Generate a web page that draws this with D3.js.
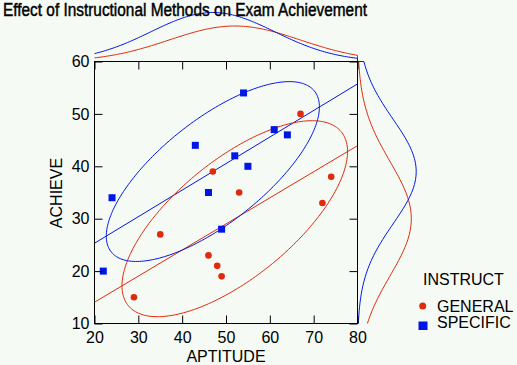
<!DOCTYPE html>
<html>
<head>
<meta charset="utf-8">
<script src="https://cdn.jsdelivr.net/npm/d3@7"></script>
<style>
  html, body { margin: 0; padding: 0; background: #f5faf5; }
  svg { display: block; }
  text { font-family: "Liberation Sans", Arial, sans-serif; fill: #000; }
</style>
</head>
<body>
<svg id="chart" width="517" height="365"></svg>
<script>
// ---- data ----
const groups = ["GENERAL", "SPECIFIC"];
const aptitudeGeneral  = [29, 35, 46, 47, 48, 49, 53, 67, 72, 74];
const achieveGeneral   = [15, 27, 23, 39, 21, 19, 35, 50, 33, 38];
const aptitudeSpecific = [22, 24, 43, 46, 49, 52, 54, 55, 61, 64];
const achieveSpecific  = [20, 34, 44, 35, 28, 42, 54, 40, 47, 46];
const xTicks = [20, 30, 40, 50, 60, 70, 80];
const yTicks = [10, 20, 30, 40, 50, 60];
const titleText = "Effect of Instructional Methods on Exam Achievement";
const xLabel = "APTITUDE";
const yLabel = "ACHIEVE";
const legendTitle = "INSTRUCT";

// ---- styling ----
const colors = { GENERAL: "#e02a0c", SPECIFIC: "#0016e6" };
const ellipseK = 1.72;
const topPeak = { GENERAL: 35.5, SPECIFIC: 49 };
const rightPeak = { GENERAL: 53.8, SPECIFIC: 58.7 };

const svg = d3.select("#chart");
const x = d3.scaleLinear().domain([20, 80]).range([94.5, 357.5]);
const y = d3.scaleLinear().domain([10, 60]).range([323.5, 61.5]);

const series = [
  { name: "GENERAL", xs: aptitudeGeneral, ys: achieveGeneral },
  { name: "SPECIFIC", xs: aptitudeSpecific, ys: achieveSpecific }
];
series.forEach(s => {
  const n = s.xs.length;
  s.mx = d3.mean(s.xs); s.my = d3.mean(s.ys);
  let sxx = 0, syy = 0, sxy = 0;
  for (let i = 0; i < n; i++) {
    const dx = s.xs[i] - s.mx, dy = s.ys[i] - s.my;
    sxx += dx * dx; syy += dy * dy; sxy += dx * dy;
  }
  s.vx = sxx / (n - 1); s.vy = syy / (n - 1); s.cxy = sxy / (n - 1);
  s.sdx = Math.sqrt(s.vx); s.sdy = Math.sqrt(s.vy);
  s.slope = sxy / sxx; s.icpt = s.my - s.slope * s.mx;
});

// clip
svg.append("clipPath").attr("id", "plotclip")
  .append("rect").attr("x", 94.5).attr("y", 61.5).attr("width", 263).attr("height", 262);

const plot = svg.append("g").attr("clip-path", "url(#plotclip)");

// regression lines
series.forEach(s => {
  plot.append("line")
    .attr("x1", x(20)).attr("y1", y(s.icpt + s.slope * 20))
    .attr("x2", x(80)).attr("y2", y(s.icpt + s.slope * 80))
    .attr("stroke", colors[s.name]).attr("stroke-width", 1);
});

// ellipses
series.forEach(s => {
  const a = Math.sqrt(s.vx), b = s.cxy / a, c = Math.sqrt(s.vy - b * b);
  const pts = d3.range(0, 240).map(i => {
    const t = i / 240 * 2 * Math.PI;
    return [x(s.mx + ellipseK * a * Math.cos(t)),
            y(s.my + ellipseK * (b * Math.cos(t) + c * Math.sin(t)))];
  });
  plot.append("path").attr("d", d3.line().curve(d3.curveLinearClosed)(pts))
    .attr("fill", "none").attr("stroke", colors[s.name]).attr("stroke-width", 1);
});

// marginal normal densities (top then right, one path per group)
series.forEach(s => {
  const pts = [];
  d3.range(0, 121).forEach(i => {
    const v = 20 + i * 0.5;
    const z = (v - s.mx) / s.sdx;
    pts.push([x(v), y(60) - topPeak[s.name] * Math.exp(-z * z / 2)]);
  });
  pts.push([x(80), y(60)]);
  d3.range(0, 101).forEach(i => {
    const v = 60 - i * 0.5;
    const z = (v - s.my) / s.sdy;
    pts.push([x(80) + rightPeak[s.name] * Math.exp(-z * z / 2), y(v)]);
  });
  svg.append("path").attr("d", d3.line()(pts))
    .attr("fill", "none").attr("stroke", colors[s.name]).attr("stroke-width", 1);
});

// points
const pg = svg.append("g");
series.forEach(s => {
  s.xs.forEach((xv, i) => {
    if (s.name === "GENERAL") {
      pg.append("circle").attr("cx", x(xv)).attr("cy", y(s.ys[i])).attr("r", 3.3)
        .attr("fill", colors[s.name]);
    } else {
      pg.append("rect").attr("x", x(xv) - 3.5).attr("y", y(s.ys[i]) - 3.5)
        .attr("width", 7).attr("height", 7).attr("fill", colors[s.name]);
    }
  });
});

// frame + axes
svg.append("rect").attr("x", 94.5).attr("y", 61.5).attr("width", 263).attr("height", 262)
  .attr("fill", "none").attr("stroke", "#000").attr("stroke-width", 1);

function styleAxis(g) {
  g.select(".domain").remove();
  g.selectAll(".tick line").attr("stroke", "#000");
  g.selectAll(".tick text").attr("font-size", 16).attr("font-family", "Liberation Sans, Arial, sans-serif").attr("fill", "#000");
}
svg.append("g").attr("transform", "translate(0,323.5)")
  .call(d3.axisBottom(x).tickValues(xTicks).tickSize(-8).tickPadding(8).tickFormat(d3.format("d")))
  .call(styleAxis);
svg.append("g").attr("transform", "translate(94.5,0)")
  .call(d3.axisLeft(y).tickValues(yTicks).tickSize(-8).tickPadding(5).tickFormat(d3.format("d")))
  .call(styleAxis);
svg.append("g").attr("transform", "translate(0,61.5)")
  .call(d3.axisTop(x).tickValues(xTicks).tickSize(-8).tickFormat(""))
  .call(styleAxis);
svg.append("g").attr("transform", "translate(357.5,0)")
  .call(d3.axisRight(y).tickValues(yTicks).tickSize(-8).tickFormat(""))
  .call(styleAxis);

// title & labels
svg.append("text").attr("x", 3).attr("y", 16).attr("font-size", 18)
  .attr("stroke", "#000").attr("stroke-width", 0.45)
  .attr("textLength", 364).attr("lengthAdjust", "spacingAndGlyphs").text(titleText);
svg.append("text").attr("x", 226).attr("y", 362).attr("font-size", 16)
  .attr("text-anchor", "middle").text(xLabel);
svg.append("text").attr("transform", "translate(62,193) rotate(-90)").attr("font-size", 16)
  .attr("text-anchor", "middle").text(yLabel);

// legend
svg.append("text").attr("x", 423).attr("y", 285).attr("font-size", 16).text(legendTitle);
const lg = svg.append("g");
lg.append("circle").attr("cx", 422.7).attr("cy", 306).attr("r", 3.5).attr("fill", colors.GENERAL);
lg.append("text").attr("x", 437).attr("y", 312.3).attr("font-size", 16).text(groups[0]);
lg.append("rect").attr("x", 418.5).attr("y", 321.5).attr("width", 9).attr("height", 8.5).attr("fill", colors.SPECIFIC);
lg.append("text").attr("x", 437).attr("y", 328.3).attr("font-size", 16).text(groups[1]);
</script>
</body>
</html>
